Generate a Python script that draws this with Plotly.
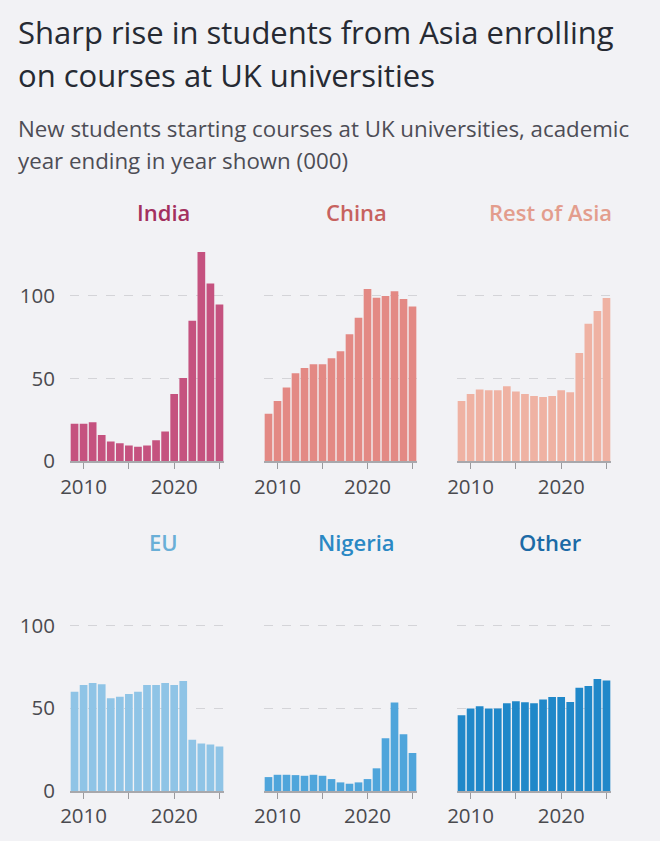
import plotly.graph_objects as go

years = list(range(2009, 2026))

india = [22.7, 22.7, 23.5, 15.9, 11.9, 10.9, 9.5, 8.7, 9.5, 12.7, 17.9, 40.6, 50.3, 84.9, 126.4, 107.4, 94.6]
china = [28.6, 36.4, 44.5, 53.1, 56.3, 58.6, 58.6, 62.2, 66.4, 76.7, 86.7, 104.0, 98.8, 99.8, 102.6, 98.0, 93.4]
rest_of_asia = [36.4, 40.6, 43.3, 42.9, 42.9, 45.3, 42.1, 40.6, 39.4, 38.8, 39.4, 42.9, 41.6, 65.4, 83.1, 90.7, 98.6]
eu = [60.0, 64.1, 65.3, 64.5, 56.0, 57.0, 58.6, 60.0, 64.1, 64.1, 65.3, 64.1, 66.5, 30.9, 28.7, 28.1, 26.9]
nigeria = [8.4, 9.8, 9.8, 9.6, 9.2, 9.8, 9.2, 7.2, 5.2, 4.4, 5.2, 7.2, 13.7, 31.9, 53.4, 34.3, 22.9]
other = [45.8, 49.8, 51.2, 49.8, 49.8, 53.0, 54.2, 53.6, 53.0, 55.2, 56.8, 56.8, 53.8, 62.4, 63.5, 67.7, 66.7]

panel_names = ["India", "China", "Rest of Asia", "EU", "Nigeria", "Other"]
panel_values = [india, china, rest_of_asia, eu, nigeria, other]
bar_colors = ["#c5527f", "#e38984", "#efb2a3", "#8fc4e6", "#4fa5db", "#2088c9"]
title_colors = ["#a3305e", "#c7625f", "#e39d8d", "#6aafd7", "#2a88c4", "#1b6aa6"]

x_tickvals = [2010, 2015, 2020, 2025]
x_ticktext = ["2010", "", "2020", ""]
y_tickvals = [0, 50, 100]
y_ticktext = ["0", "50", "100"]

W, H = 660, 841
ML, MR, MT, MB = 70, 49, 246, 48
PW = W - ML - MR
PH = H - MT - MB

def px_x(px):
    return (px - ML) / PW

def px_y(py):
    return (H - MB - py) / PH

col_px = [(70, 224), (264, 417), (457, 611)]
row_px = [(246, 462), (577, 793)]
title_cx = [163, 356, 550]
title_cy = [212, 543]

font_family = "'Open Sans', 'Noto Sans', sans-serif"

fig = go.Figure()
layout_axes = {}
annotations = []
for i, (name, vals) in enumerate(zip(panel_names, panel_values)):
    r, c = divmod(i, 3)
    n = i + 1
    xa = "x" if n == 1 else f"x{n}"
    ya = "y" if n == 1 else f"y{n}"
    fig.add_trace(go.Bar(x=years, y=vals, marker=dict(color=bar_colors[i], line=dict(width=0)),
                         xaxis=xa, yaxis=ya, showlegend=False, hoverinfo="x+y"))
    xkey = "xaxis" if n == 1 else f"xaxis{n}"
    ykey = "yaxis" if n == 1 else f"yaxis{n}"
    layout_axes[xkey] = dict(
        domain=[px_x(col_px[c][0]), px_x(col_px[c][1])],
        anchor=ya, range=[2008.5, 2025.5],
        tickvals=x_tickvals, ticktext=x_ticktext,
        ticks="outside", ticklen=6, tickwidth=1.2, tickcolor="#9a9a9e",
        showline=True, linecolor="#a8a8ac", linewidth=1.5,
        showgrid=False, zeroline=False,
        tickfont=dict(size=20.5, color="#4a4a4f", family=font_family),
        fixedrange=True,
    )
    layout_axes[ykey] = dict(
        domain=[px_y(row_px[r][1]), px_y(row_px[r][0])],
        anchor=xa, range=[0, 130],
        tickvals=y_tickvals, ticktext=y_ticktext,
        showticklabels=(c == 0), ticks="", ticklabelstandoff=14,
        showgrid=True, gridcolor="#d4d4d8", griddash="dash", gridwidth=1,
        zeroline=False, showline=False,
        tickfont=dict(size=20.5, color="#4a4a4f", family=font_family),
        fixedrange=True,
    )
    annotations.append(dict(
        text=name, x=px_x(title_cx[c]), y=px_y(title_cy[r]),
        xref="paper", yref="paper", xanchor="center", yanchor="middle",
        showarrow=False, font=dict(size=22, color=title_colors[i], family=font_family, weight=600),
    ))

title_lines = [("Sharp rise in students from Asia enrolling", 31),
               ("on courses at UK universities", 74)]
for txt, cy in title_lines:
    annotations.append(dict(text=txt, x=px_x(16), y=px_y(cy), xref="paper", yref="paper",
                            xanchor="left", yanchor="middle", showarrow=False,
                            font=dict(size=31, color="#262a33", family=font_family)))
sub_lines = [("New students starting courses at UK universities, academic", 128),
             ("year ending in year shown (000)", 160)]
for txt, cy in sub_lines:
    annotations.append(dict(text=txt, x=px_x(16), y=px_y(cy), xref="paper", yref="paper",
                            xanchor="left", yanchor="middle", showarrow=False,
                            font=dict(size=22.3, color="#4d4d55", family=font_family)))

fig.update_layout(
    width=W, height=H,
    margin=dict(l=ML, r=MR, t=MT, b=MB),
    paper_bgcolor="#f2f2f5", plot_bgcolor="#f2f2f5",
    bargap=0.15, annotations=annotations,
    font=dict(family=font_family),
    **layout_axes,
)

fig.write_html("out.html", config={"displayModeBar": False})
